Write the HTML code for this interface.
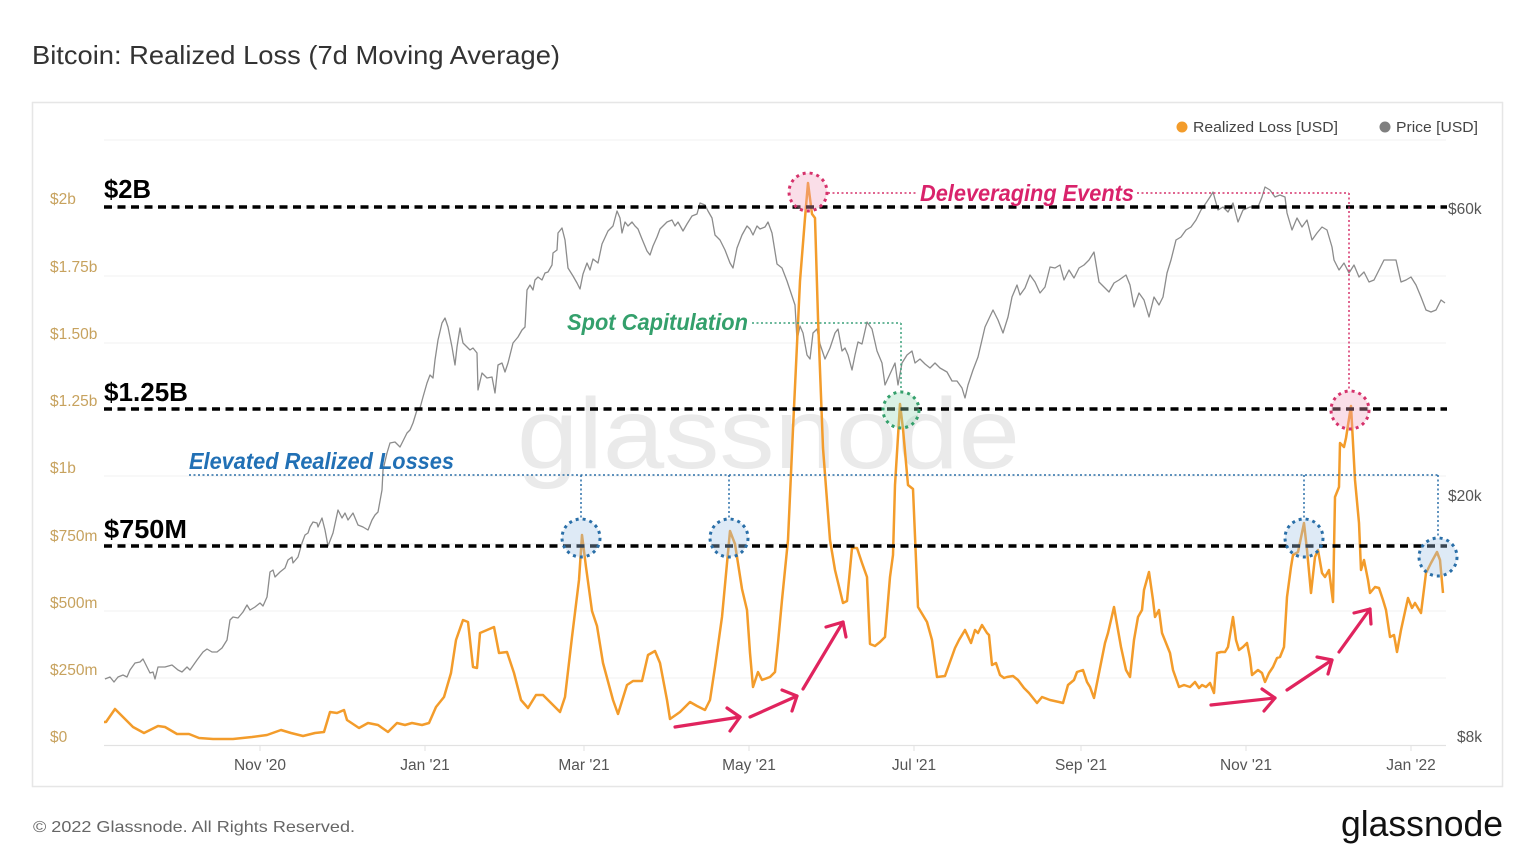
<!DOCTYPE html>
<html><head><meta charset="utf-8"><style>
html,body{margin:0;padding:0;background:#fff;}
svg{display:block;font-family:"Liberation Sans",Arial,sans-serif;}
</style></head><body>
<svg width="1536" height="865" viewBox="0 0 1536 865" xmlns="http://www.w3.org/2000/svg">
<rect x="0" y="0" width="1536" height="865" fill="#fff"/>
<text x="32" y="64" font-size="26" fill="#333" textLength="528" lengthAdjust="spacingAndGlyphs">Bitcoin: Realized Loss (7d Moving Average)</text>
<rect x="32.5" y="102.5" width="1470" height="684" fill="#fff" stroke="#e6e6e6" stroke-width="1.5"/>

<!-- gridlines -->
<g stroke="#f1f1f1" stroke-width="1">
<line x1="104" y1="140" x2="1446" y2="140"/>
<line x1="104" y1="207" x2="1446" y2="207"/>
<line x1="104" y1="276" x2="1446" y2="276"/>
<line x1="104" y1="343" x2="1446" y2="343"/>
<line x1="104" y1="409" x2="1446" y2="409"/>
<line x1="104" y1="476" x2="1446" y2="476"/>
<line x1="104" y1="544" x2="1446" y2="544"/>
<line x1="104" y1="611" x2="1446" y2="611"/>
<line x1="104" y1="678" x2="1446" y2="678"/>
</g>
<line x1="104" y1="745.5" x2="1446" y2="745.5" stroke="#e2e2e2" stroke-width="1.2"/>
<g stroke="#e2e2e2" stroke-width="1">
<line x1="260" y1="745" x2="260" y2="751"/><line x1="425" y1="745" x2="425" y2="751"/>
<line x1="584" y1="745" x2="584" y2="751"/><line x1="749" y1="745" x2="749" y2="751"/>
<line x1="914" y1="745" x2="914" y2="751"/><line x1="1081" y1="745" x2="1081" y2="751"/>
<line x1="1246" y1="745" x2="1246" y2="751"/><line x1="1411" y1="745" x2="1411" y2="751"/>
</g>

<!-- watermark -->
<text x="517" y="468" font-size="100" fill="#eaeaea" textLength="503" lengthAdjust="spacingAndGlyphs">glassnode</text>

<!-- left axis -->
<g font-size="15.5" fill="#c7a25e">
<text x="50" y="204">$2b</text>
<text x="50" y="272">$1.75b</text>
<text x="50" y="339">$1.50b</text>
<text x="50" y="406">$1.25b</text>
<text x="50" y="473">$1b</text>
<text x="50" y="541">$750m</text>
<text x="50" y="608">$500m</text>
<text x="50" y="675">$250m</text>
<text x="50" y="742">$0</text>
</g>
<!-- right axis -->
<g font-size="15.5" fill="#555">
<text x="1448" y="214">$60k</text>
<text x="1448" y="501">$20k</text>
<text x="1457" y="742">$8k</text>
</g>
<!-- x axis -->
<g font-size="15.5" fill="#555" text-anchor="middle">
<text x="260" y="770">Nov '20</text>
<text x="425" y="770">Jan '21</text>
<text x="584" y="770">Mar '21</text>
<text x="749" y="770">May '21</text>
<text x="914" y="770">Jul '21</text>
<text x="1081" y="770">Sep '21</text>
<text x="1246" y="770">Nov '21</text>
<text x="1411" y="770">Jan '22</text>
</g>

<!-- legend -->
<circle cx="1182" cy="127" r="5.5" fill="#f39c2b"/>
<text x="1193" y="132" font-size="14.5" fill="#444" textLength="145" lengthAdjust="spacingAndGlyphs">Realized Loss [USD]</text>
<circle cx="1385" cy="127" r="5.5" fill="#7f7f7f"/>
<text x="1396" y="132" font-size="14.5" fill="#444" textLength="82" lengthAdjust="spacingAndGlyphs">Price [USD]</text>

<!-- price series -->
<polyline fill="none" stroke="#8c8c8c" stroke-width="1.3" stroke-linejoin="round" points="105,679 110,677 114,682 118,677 123,675 127,677 130,670 135,663 140,662 143,659 147,667 150,673 153,672 155,679 158,667 165,667 172,665 178,670 182,672 187,667 190,670 197,660 203,652 207,649 212,652 217,652 222,648 227,640 230,620 233,617 238,618 243,612 247,605 250,610 255,607 260,603 263,606 267,597 270,572 273,570 275,577 280,572 285,568 288,560 292,557 293,563 298,557 302,543 305,535 308,533 310,527 313,522 317,523 318,527 322,518 325,530 328,546 333,533 338,510 342,518 345,513 348,520 353,513 358,525 363,527 368,530 372,520 375,515 378,512 382,490 383,470 387,453 390,443 395,442 400,447 407,433 410,430 413,423 417,410 420,408 423,397 427,383 430,375 433,378 435,360 438,340 442,323 445,318 448,327 452,347 455,365 457,347 460,328 463,343 467,347 470,350 473,348 477,353 478,390 482,373 487,378 492,377 495,393 498,365 502,363 505,372 508,363 513,343 518,337 522,330 525,327 527,290 530,285 533,290 535,280 538,277 542,280 545,273 548,272 552,265 553,253 557,250 558,233 562,228 565,240 568,268 573,276 577,283 580,289 583,274 587,263 590,270 593,259 598,263 602,244 608,231 613,226 617,211 620,218 622,233 625,222 628,226 632,222 635,226 638,229 642,239 647,251 650,255 653,246 657,237 660,229 667,222 672,220 675,226 678,222 683,231 687,224 692,216 697,214 700,203 705,205 708,211 712,218 715,235 720,240 725,250 730,263 733,268 737,248 742,235 747,226 750,229 753,235 757,226 760,229 765,227 768,222 772,233 777,264 782,268 787,281 792,296 795,305 797,340 800,326 803,333 807,355 810,359 813,333 817,329 820,344 825,359 830,348 835,333 838,329 842,351 845,348 848,355 852,370 855,355 858,342 862,344 867,322 872,329 877,351 882,363 885,385 890,374 895,363 898,385 902,363 907,355 912,351 915,363 920,359 925,364 930,368 935,363 940,368 947,372 952,381 957,381 962,388 965,398 968,385 973,370 978,357 985,327 993,310 998,320 1003,333 1008,317 1012,297 1017,285 1020,295 1025,288 1030,275 1035,282 1040,293 1045,287 1050,267 1055,268 1060,265 1064,280 1069,270 1074,278 1079,268 1084,265 1089,260 1094,252 1099,282 1104,287 1109,292 1114,283 1119,280 1126,275 1130,285 1134,307 1139,293 1144,300 1149,317 1154,297 1159,305 1163,297 1167,273 1171,260 1176,240 1181,237 1186,230 1191,227 1196,220 1201,210 1206,203 1210,197 1213,192 1218,210 1223,207 1228,212 1233,203 1238,222 1243,210 1250,207 1258,207 1262,197 1265,187 1270,190 1275,197 1280,195 1285,197 1287,213 1292,230 1297,218 1302,227 1307,220 1312,240 1317,233 1322,227 1327,230 1332,247 1334,260 1339,270 1344,263 1349,273 1354,265 1359,277 1364,272 1369,282 1374,280 1379,270 1384,260 1389,260 1396,260 1401,282 1406,280 1411,277 1416,285 1421,297 1426,310 1431,312 1436,310 1441,300 1445,303"/>

<!-- realized loss series -->
<polyline fill="none" stroke="#f39c2b" stroke-width="2.5" stroke-linejoin="round" points="104,722 106,722 115,709 124,718 133,727 144,733 158,726 165,727 177,734 189,734 199,738 213,739 233,739 252,737 267,735 281,730 291,733 303,736 315,733 324,732 330,712 337,713 344,710 347,720 359,728 368,723 378,725 388,732 397,723 405,725 412,723 422,725 429,723 436,707 444,697 451,673 456,640 463,620 468,622 473,667 477,668 480,633 487,630 494,627 499,653 507,652 514,673 521,700 528,708 536,695 543,695 550,702 560,712 565,697 572,637 579,580 582,535 586,567 592,611 597,626 603,663 613,700 618,714 627,685 633,681 642,681 648,655 655,651 660,663 667,700 670,719 680,712 690,702 697,706 705,710 710,700 715,667 722,617 730,531 735,544 742,589 747,610 750,653 753,687 758,672 762,680 770,677 775,672 778,643 782,600 788,540 793,429 800,281 805,218 808,183 812,214 815,218 818,318 823,448 830,540 835,570 843,603 847,601 852,548 857,548 862,563 867,577 870,644 875,646 880,642 885,637 890,577 893,555 895,485 900,404 903,429 908,485 913,489 918,607 927,622 932,640 937,677 945,676 955,648 959,640 965,630 971,643 975,630 978,633 982,625 987,633 989,635 992,665 996,663 1000,675 1004,678 1007,677 1013,676 1018,680 1024,688 1029,693 1037,703 1042,697 1050,700 1059,702 1063,703 1068,685 1074,680 1077,672 1083,670 1087,682 1090,687 1094,698 1099,673 1105,643 1108,633 1114,607 1118,630 1121,647 1126,670 1130,677 1134,640 1138,617 1142,610 1144,590 1149,572 1153,600 1155,617 1159,610 1162,633 1166,643 1170,653 1173,670 1179,687 1184,685 1190,687 1195,682 1199,688 1202,685 1206,687 1210,683 1214,693 1217,653 1221,652 1225,652 1228,647 1233,617 1236,640 1239,650 1243,647 1247,643 1250,658 1252,675 1258,670 1262,673 1265,682 1269,673 1273,667 1277,658 1280,657 1284,647 1287,597 1291,567 1293,555 1298,552 1304,523 1307,550 1311,593 1315,557 1318,550 1322,573 1325,577 1329,570 1333,602 1335,497 1339,487 1340,443 1344,447 1346,438 1351,406 1355,480 1359,523 1361,570 1364,560 1368,580 1370,593 1375,587 1379,588 1383,600 1386,610 1390,637 1394,635 1397,652 1401,630 1408,598 1412,608 1415,603 1421,613 1426,573 1431,563 1437,552 1440,560 1443,593"/>

<!-- black dashed threshold lines -->
<g stroke="#000" stroke-width="3.5" stroke-dasharray="8 5.5">
<line x1="104" y1="207" x2="1447" y2="207"/>
<line x1="104" y1="409" x2="1447" y2="409"/>
<line x1="104" y1="546" x2="1447" y2="546"/>
</g>
<g font-size="26" font-weight="bold" fill="#000">
<text x="104" y="198" textLength="47" lengthAdjust="spacingAndGlyphs">$2B</text>
<text x="104" y="401" textLength="84" lengthAdjust="spacingAndGlyphs">$1.25B</text>
<text x="104" y="538" textLength="83" lengthAdjust="spacingAndGlyphs">$750M</text>
</g>

<!-- blue annotations -->
<g stroke="#2a6fa8" stroke-width="1.5" stroke-dasharray="2 2.5" fill="none">
<line x1="189" y1="475" x2="1438" y2="475"/>
<line x1="581" y1="475" x2="581" y2="519"/>
<line x1="729" y1="475" x2="729" y2="519"/>
<line x1="1304" y1="475" x2="1304" y2="519"/>
<line x1="1438" y1="475" x2="1438" y2="538"/>
</g>
<g fill="rgba(160,195,228,0.35)" stroke="#2a6fa8" stroke-width="3" stroke-dasharray="3 4">
<circle cx="581" cy="538" r="19"/>
<circle cx="729" cy="538" r="19"/>
<circle cx="1304" cy="538" r="19"/>
<circle cx="1438" cy="557" r="19"/>
</g>
<text x="189" y="469" font-size="23" font-weight="bold" font-style="italic" fill="#2170b5" textLength="265" lengthAdjust="spacingAndGlyphs">Elevated Realized Losses</text>

<!-- green annotations -->
<g stroke="#3aa07a" stroke-width="1.5" stroke-dasharray="2 2.5" fill="none">
<line x1="752" y1="323" x2="901" y2="323"/>
<line x1="901" y1="323" x2="901" y2="391"/>
</g>
<circle cx="901" cy="410" r="18" fill="rgba(150,215,180,0.35)" stroke="#35a06c" stroke-width="3" stroke-dasharray="3 4"/>
<text x="567" y="330" font-size="23" font-weight="bold" font-style="italic" fill="#34a06c" textLength="181" lengthAdjust="spacingAndGlyphs">Spot Capitulation</text>

<!-- pink annotations -->
<g stroke="#d6336c" stroke-width="1.5" stroke-dasharray="2 2.5" fill="none">
<line x1="828" y1="193" x2="918" y2="193"/>
<line x1="1137" y1="193" x2="1349" y2="193"/>
<line x1="1349" y1="193" x2="1349" y2="391"/>
</g>
<g fill="rgba(240,160,190,0.35)" stroke="#d6336c" stroke-width="3" stroke-dasharray="3 4">
<circle cx="808" cy="192" r="19"/>
<circle cx="1350" cy="410" r="19"/>
</g>
<text x="920" y="201" font-size="23" font-weight="bold" font-style="italic" fill="#d9236b" textLength="214" lengthAdjust="spacingAndGlyphs">Deleveraging Events</text>

<!-- arrows -->
<g stroke="#e0245e" stroke-width="3.2" stroke-linecap="round" stroke-linejoin="round" fill="none">
<line x1="675" y1="727" x2="740" y2="717"/><polyline points="727,708 740,717 730,731"/>
<line x1="750" y1="717" x2="797" y2="696"/><polyline points="782,690 797,696 792,711"/>
<line x1="803" y1="689" x2="843" y2="622"/><polyline points="826,627 843,622 846,637"/>
<line x1="1211" y1="705" x2="1275" y2="698"/><polyline points="1262,689 1275,698 1264,711"/>
<line x1="1287" y1="690" x2="1332" y2="660"/><polyline points="1317,657 1332,660 1328,674"/>
<line x1="1339" y1="652" x2="1370" y2="609"/><polyline points="1354,613 1370,609 1371,624"/>
</g>

<!-- footer -->
<text x="33" y="832" font-size="16" fill="#666" textLength="322" lengthAdjust="spacingAndGlyphs">© 2022 Glassnode. All Rights Reserved.</text>
<text x="1341" y="836" font-size="36" fill="#111" textLength="162" lengthAdjust="spacingAndGlyphs">glassnode</text>
</svg>
</body></html>
